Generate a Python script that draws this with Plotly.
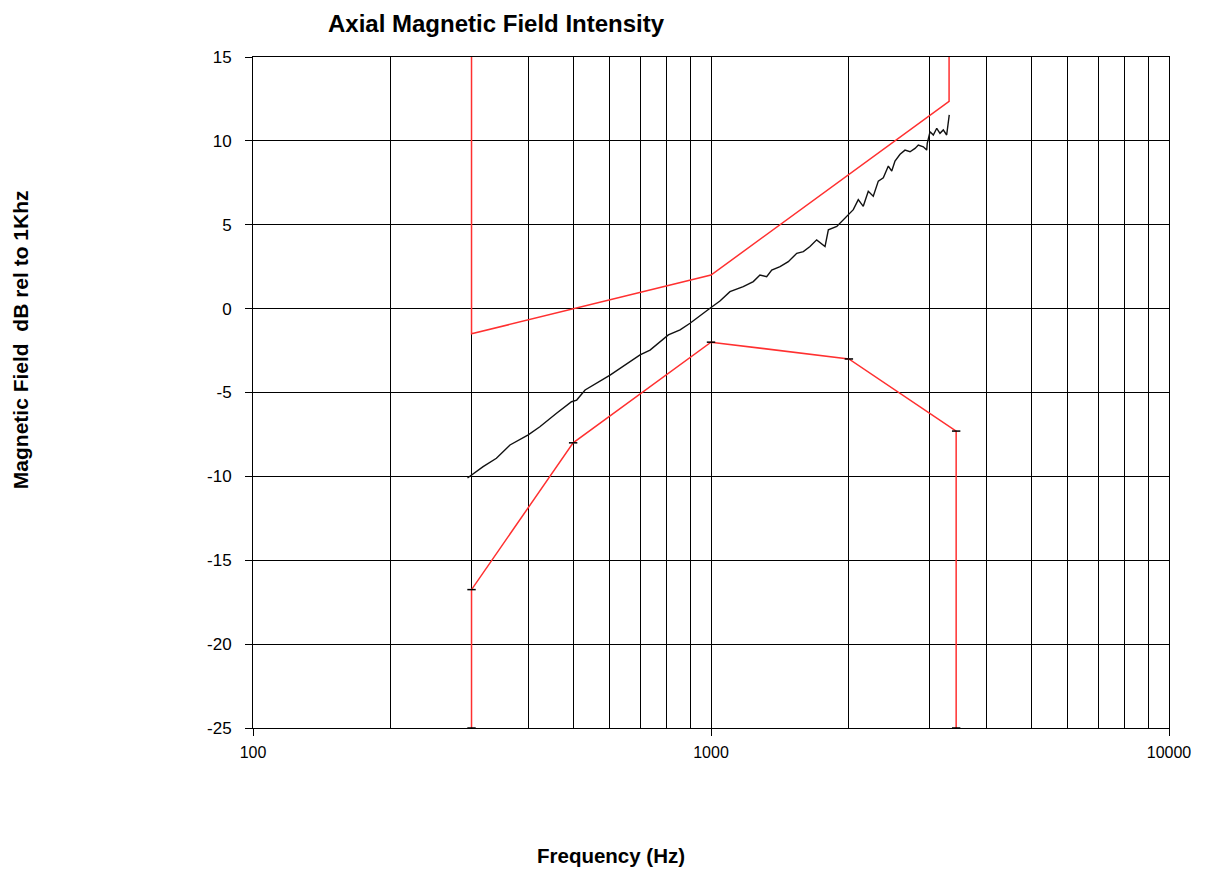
import plotly.graph_objects as go

meas_freq = [294, 318, 340, 364, 399, 423, 460, 496, 509, 531, 602, 700, 736, 807, 856, 900,
             995, 1046, 1100, 1176, 1237, 1279, 1323, 1357, 1415, 1475, 1539, 1591, 1645, 1701,
             1774, 1804, 1882, 1962, 2045, 2097, 2150, 2205, 2261, 2319, 2378, 2439, 2481, 2522,
             2587, 2652, 2720, 2789, 2836, 2908, 2958, 2966, 3008, 3058, 3111, 3162, 3215, 3270, 3313]
meas_db = [-10.1, -9.42, -8.92, -8.13, -7.53, -7.04, -6.24, -5.55, -5.45, -4.85, -3.96, -2.76, -2.47,
           -1.57, -1.27, -0.87, 0.02, 0.45, 1.01, 1.31, 1.61, 2.0, 1.9, 2.3, 2.5, 2.8, 3.3, 3.4, 3.7,
           4.1, 3.7, 4.7, 4.9, 5.4, 5.9, 6.5, 6.1, 7.0, 6.7, 7.6, 7.8, 8.5, 8.2, 8.8, 9.2, 9.45, 9.35,
           9.55, 9.75, 9.65, 9.45, 9.85, 10.55, 10.35, 10.75, 10.45, 10.65, 10.35, 11.55]

# Upper tolerance limit
upper_freq = [300, 300, 1000, 3310, 3310]
upper_db = [15, -1.5, 2, 12.35, 15]

# Lower tolerance limit
lower_freq = [300, 300, 500, 1000, 2000, 3430, 3430]
lower_db = [-25, -16.75, -8, -2, -3, -7.3, -25]

x_major = [100, 1000, 10000]
x_minor = [200, 300, 400, 500, 600, 700, 800, 900,
           2000, 3000, 4000, 5000, 6000, 7000, 8000, 9000]
y_ticks = [15, 10, 5, 0, -5, -10, -15, -20, -25]
y_ticktext = [str(v) for v in y_ticks]

FONT = "Liberation Sans, Arial, sans-serif"

fig = go.Figure()
fig.add_trace(go.Scatter(x=upper_freq, y=upper_db, mode="lines",
                         line=dict(color="#ff3030", width=1.5), showlegend=False))
fig.add_trace(go.Scatter(x=lower_freq, y=lower_db, mode="lines+markers",
                         line=dict(color="#ff3030", width=1.5),
                         marker=dict(symbol="line-ew", size=6, color="black",
                                     line=dict(color="black", width=1.5)),
                         showlegend=False))
fig.add_trace(go.Scatter(x=meas_freq, y=meas_db, mode="lines",
                         line=dict(color="#111111", width=1.4), showlegend=False))

fig.update_layout(
    width=1200, height=862,
    margin=dict(l=245, r=39, t=49, b=142),
    paper_bgcolor="white", plot_bgcolor="white",
    font=dict(family=FONT, color="black", size=16),
    showlegend=False,
    annotations=[
        dict(text="<b>Axial Magnetic Field Intensity</b>", xref="paper", yref="paper",
             x=0.266, y=1, yshift=49, showarrow=False, xanchor="center", yanchor="top",
             font=dict(size=24, family=FONT)),
        dict(text="<b>Magnetic Field  dB rel to 1Khz</b>", xref="paper", yref="paper",
             x=0, xshift=-233, y=0.578, textangle=-90, showarrow=False,
             xanchor="center", yanchor="middle", font=dict(size=21, family=FONT)),
        dict(text="<b>Frequency (Hz)</b>", xref="paper", yref="paper",
             x=0.391, y=0, yshift=-127, showarrow=False,
             xanchor="center", yanchor="middle", font=dict(size=20.5, family=FONT)),
    ],
)

fig.update_xaxes(type="log", range=[2, 4], tickmode="array", tickvals=x_major,
                 ticktext=[str(v) for v in x_major],
                 showgrid=True, gridcolor="black", gridwidth=1,
                 showline=True, linecolor="black", linewidth=1, mirror=True,
                 ticks="outside", ticklen=7, tickcolor="black", ticklabelstandoff=3,
                 minor=dict(tickmode="array", tickvals=x_minor, showgrid=True,
                            gridcolor="black", gridwidth=1, ticks=""),
                 zeroline=False, tickfont=dict(size=16))
fig.update_yaxes(range=[-25, 15], tickmode="array", tickvals=y_ticks, ticktext=y_ticktext,
                 showgrid=True, gridcolor="black", gridwidth=1,
                 showline=True, linecolor="black", linewidth=1, mirror=True,
                 ticks="outside", ticklen=7, tickcolor="black", ticklabelstandoff=10,
                 zeroline=False, tickfont=dict(size=17))

fig.write_html("out.html")
